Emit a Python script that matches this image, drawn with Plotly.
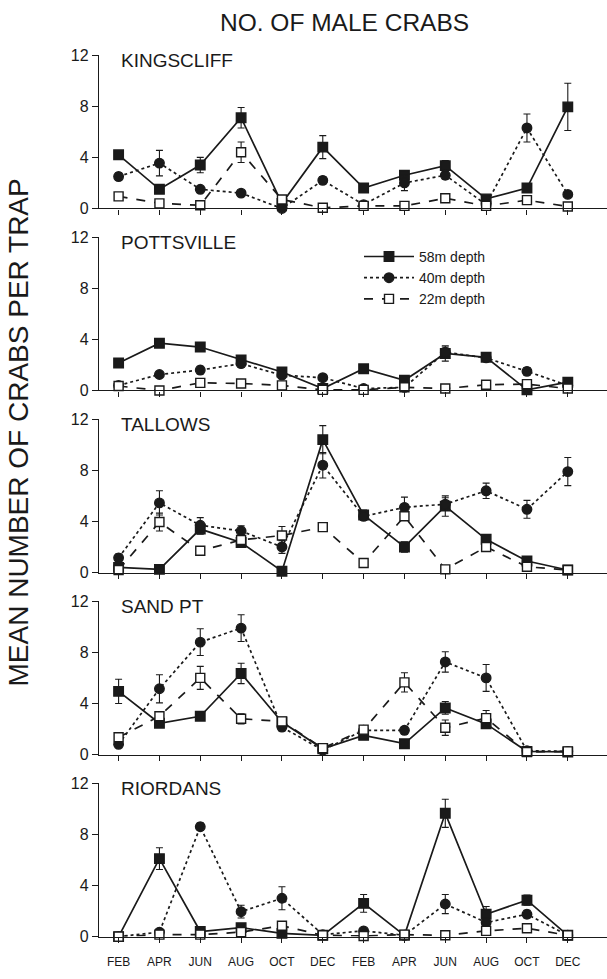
import plotly.graph_objects as go

# ---------------- data ----------------
month_labels = ["FEB", "APR", "JUN", "AUG", "OCT", "DEC", "FEB", "APR", "JUN", "AUG", "OCT", "DEC"]
sites = ["KINGSCLIFF", "POTTSVILLE", "TALLOWS", "SAND PT", "RIORDANS"]
series_names = ["58m depth", "40m depth", "22m depth"]

kingscliff_58 = [4.2, 1.5, 3.4, 7.1, 0.4, 4.8, 1.6, 2.6, 3.35, 0.75, 1.6, 7.95]
kingscliff_40 = [2.5, 3.55, 1.5, 1.2, 0.0, 2.2, 0.3, 2.0, 2.6, 0.3, 6.3, 1.1]
kingscliff_22 = [0.95, 0.4, 0.25, 4.4, 0.7, 0.05, 0.2, 0.2, 0.8, 0.2, 0.65, 0.15]
kingscliff_58_err = [0.3, 0.2, 0.6, 0.8, 0.2, 0.9, 0.2, 0.3, 0.4, 0.2, 0.3, 1.85]
kingscliff_40_err = [0.3, 1.0, 0.2, 0.2, 0.1, 0.3, 0.1, 0.6, 0.3, 0.1, 1.1, 0.2]
kingscliff_22_err = [0.2, 0.1, 0.1, 0.8, 0.2, 0.05, 0.1, 0.1, 0.2, 0.1, 0.2, 0.1]

pottsville_58 = [2.15, 3.7, 3.4, 2.4, 1.45, 0.15, 1.7, 0.8, 2.9, 2.6, 0.05, 0.65]
pottsville_40 = [0.4, 1.25, 1.6, 2.1, 1.2, 1.0, 0.15, 0.25, 3.0, 2.55, 1.5, 0.4]
pottsville_22 = [0.35, 0.0, 0.6, 0.55, 0.4, 0.05, 0.05, 0.25, 0.15, 0.45, 0.5, 0.15]
pottsville_58_err = [0.3, 0.3, 0.2, 0.3, 0.3, 0.1, 0.2, 0.2, 0.6, 0.3, 0.1, 0.2]
pottsville_40_err = [0.1, 0.2, 0.3, 0.3, 0.2, 0.2, 0.1, 0.1, 0.4, 0.2, 0.3, 0.1]
pottsville_22_err = [0.1, 0.05, 0.2, 0.1, 0.1, 0.05, 0.05, 0.1, 0.05, 0.1, 0.2, 0.05]

tallows_58 = [0.4, 0.25, 3.4, 2.35, 0.1, 10.4, 4.5, 2.0, 5.2, 2.6, 0.9, 0.2]
tallows_40 = [1.15, 5.45, 3.7, 3.25, 2.0, 8.4, 4.4, 5.1, 5.35, 6.4, 4.95, 7.9]
tallows_22 = [0.2, 3.95, 1.7, 2.55, 2.9, 3.55, 0.75, 4.4, 0.25, 2.0, 0.45, 0.2]
tallows_58_err = [0.3, 0.1, 0.4, 0.3, 0.1, 1.1, 0.4, 0.4, 0.8, 0.3, 0.2, 0.1]
tallows_40_err = [0.3, 0.95, 0.6, 0.4, 0.5, 1.0, 0.3, 0.8, 0.5, 0.6, 0.7, 1.1]
tallows_22_err = [0.1, 0.7, 0.3, 0.3, 0.7, 0.3, 0.2, 0.3, 0.1, 0.3, 0.2, 0.1]

sandpt_58 = [4.95, 2.45, 3.0, 6.35, 2.55, 0.45, 1.5, 0.85, 3.65, 2.4, 0.25, 0.2]
sandpt_40 = [0.8, 5.15, 8.8, 9.9, 2.15, 0.35, 1.9, 1.9, 7.25, 6.0, 0.3, 0.25]
sandpt_22 = [1.35, 3.0, 6.0, 2.8, 2.6, 0.5, 1.95, 5.65, 2.1, 2.85, 0.2, 0.25]
sandpt_58_err = [0.95, 0.3, 0.3, 0.8, 0.3, 0.1, 0.2, 0.2, 0.5, 0.3, 0.1, 0.1]
sandpt_40_err = [0.2, 1.1, 1.05, 1.05, 0.3, 0.1, 0.2, 0.3, 0.8, 1.05, 0.1, 0.1]
sandpt_22_err = [0.3, 0.3, 0.9, 0.4, 0.3, 0.1, 0.2, 0.75, 0.6, 0.6, 0.1, 0.1]

riordans_58 = [0.0, 6.1, 0.4, 0.7, 0.25, 0.1, 2.6, 0.1, 9.65, 1.75, 2.85, 0.1]
riordans_40 = [0.0, 0.35, 8.6, 1.95, 3.0, 0.15, 0.45, 0.1, 2.55, 1.1, 1.75, 0.1]
riordans_22 = [0.0, 0.15, 0.15, 0.35, 0.85, 0.1, 0.05, 0.15, 0.1, 0.45, 0.65, 0.1]
riordans_58_err = [0.05, 0.85, 0.1, 0.2, 0.1, 0.05, 0.7, 0.05, 1.1, 0.6, 0.4, 0.05]
riordans_40_err = [0.05, 0.1, 0.3, 0.5, 0.9, 0.05, 0.1, 0.05, 0.75, 0.3, 0.3, 0.05]
riordans_22_err = [0.05, 0.05, 0.05, 0.1, 0.2, 0.05, 0.05, 0.05, 0.05, 0.1, 0.2, 0.05]

y_ticks = [0, 4, 8, 12]

panels = [
    (kingscliff_58, kingscliff_40, kingscliff_22, kingscliff_58_err, kingscliff_40_err, kingscliff_22_err),
    (pottsville_58, pottsville_40, pottsville_22, pottsville_58_err, pottsville_40_err, pottsville_22_err),
    (tallows_58, tallows_40, tallows_22, tallows_58_err, tallows_40_err, tallows_22_err),
    (sandpt_58, sandpt_40, sandpt_22, sandpt_58_err, sandpt_40_err, sandpt_22_err),
    (riordans_58, riordans_40, riordans_22, riordans_58_err, riordans_40_err, riordans_22_err),
]

# ---------------- layout constants (pixels) ----------------
W, H = 607, 979
FONT = "Liberation Sans, Arial, sans-serif"
INK = "#1a1a1a"
first_top, panel_h, panel_step = 48, 156, 185.25
panel_px = [(first_top + i * panel_step, first_top + i * panel_step + panel_h) for i in range(5)]
x_left_px = 99
x_range = [-0.48, 11.96]

styles = [
    dict(dash="solid", symbol="square", fill=INK, size=9.5),
    dict(dash="dot", symbol="circle", fill=INK, size=9.5),
    dict(dash="dash", symbol="square", fill="white", size=9),
]

xs = list(range(len(month_labels)))
fig = go.Figure()

for p, data in enumerate(panels):
    vals = data[:3]
    errs = data[3:]
    ax = "" if p == 0 else str(p + 1)
    for s in range(3):
        st = styles[s]
        fig.add_trace(go.Scatter(
            x=xs, y=vals[s], xaxis="x" + ax, yaxis="y" + ax,
            mode="lines+markers",
            name=series_names[s], legendgroup=series_names[s],
            showlegend=(p == 0),
            line=dict(color=INK, width=1.7, dash=st["dash"]),
            marker=dict(symbol=st["symbol"], size=st["size"], color=st["fill"],
                        line=dict(color=INK, width=1.4)),
            error_y=dict(type="data", array=errs[s], visible=True, color=INK,
                         thickness=1.1, width=3.5),
            cliponaxis=False,
        ))

layout = dict(
    width=W, height=H,
    margin=dict(l=0, r=0, t=0, b=0),
    paper_bgcolor="white", plot_bgcolor="white",
    font=dict(family=FONT, color=INK),
    showlegend=True,
    legend=dict(x=359 / W, y=1 - 237 / H, xanchor="left", yanchor="top",
                bgcolor="rgba(0,0,0,0)", font=dict(size=14, family=FONT, color=INK),
                tracegroupgap=0, itemwidth=50),
)

for p, (top, bot) in enumerate(panel_px):
    ax = "" if p == 0 else str(p + 1)
    layout["xaxis" + ax] = dict(
        domain=[x_left_px / W, 1], range=x_range,
        anchor="y" + ax, showgrid=False, zeroline=False,
        showline=True, linecolor=INK, linewidth=1.3,
        ticks="outside", ticklen=5, tickwidth=1.2, tickcolor=INK,
        tickvals=xs, ticktext=month_labels,
        showticklabels=(p == len(panel_px) - 1),
        ticklabelstandoff=9,
        tickfont=dict(size=12, family=FONT, color=INK),
    )
    layout["yaxis" + ax] = dict(
        domain=[1 - bot / H, 1 - top / H], range=[0, 12],
        anchor="x" + ax, showgrid=False, zeroline=False,
        showline=True, linecolor=INK, linewidth=1.3,
        ticks="outside", ticklen=6, tickwidth=1.2, tickcolor=INK,
        tickvals=y_ticks, ticktext=[str(v) for v in y_ticks],
        tickfont=dict(size=16, family=FONT, color=INK),
    )

annotations = [
    dict(text="NO. OF MALE CRABS", x=344 / W, y=1 - 15 / H, xref="paper", yref="paper",
         xanchor="center", yanchor="middle",
         showarrow=False, font=dict(size=24.5, family=FONT, color=INK)),
    dict(text="MEAN NUMBER OF CRABS PER TRAP", x=18 / W, y=1 - 432 / H, xref="paper", yref="paper",
         xanchor="center", yanchor="middle",
         showarrow=False, textangle=-90, font=dict(size=28, family=FONT, color=INK)),
]
for p, (top, bot) in enumerate(panel_px):
    annotations.append(dict(text=sites[p], x=119 / W, y=1 - (top + 5) / H,
                            xref="paper", yref="paper", xanchor="left", yanchor="middle",
                            showarrow=False, font=dict(size=19, family=FONT, color=INK)))
layout["annotations"] = annotations

fig.update_layout(**layout)
fig.write_html(
    "out.html",
    config={"displayModeBar": False},
    post_script="document.body.style.margin='0';document.body.style.overflow='hidden';",
)
